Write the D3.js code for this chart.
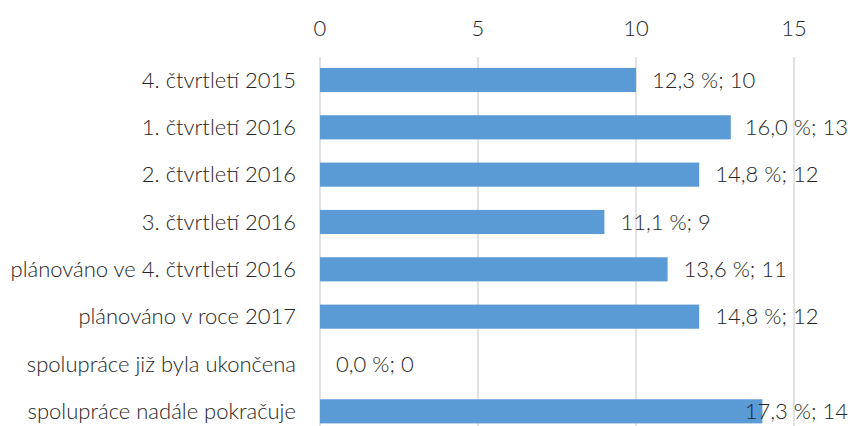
<!DOCTYPE html>
<html>
<head>
<meta charset="utf-8">
<script src="https://cdn.jsdelivr.net/npm/d3@7"></script>
<style>
  body { margin: 0; background: #fff; }
  text { font-family: Lato, "Open Sans", sans-serif; font-weight: 300; fill: #262626; }
</style>
</head>
<body>
<div id="chart"></div>
<script>
// chart data
const categories = [
    "4. čtvrtletí 2015",
    "1. čtvrtletí 2016",
    "2. čtvrtletí 2016",
    "3. čtvrtletí 2016",
    "plánováno ve 4. čtvrtletí 2016",
    "plánováno v roce 2017",
    "spolupráce již byla ukončena",
    "spolupráce nadále pokračuje"
]
const counts = [10, 13, 12, 9, 11, 12, 0, 14]
const percents = ["12,3", "16,0", "14,8", "11,1", "13,6", "14,8", "0,0", "17,3"]
const tickValues = [0, 5, 10, 15]

const W = 850, H = 426
const FS = 22
let svg = d3.select("#chart")
            .append("svg")
                .attr("width", W)
                .attr("height", H)

let x = d3.scaleLinear()
            .domain([0, 15])
            .range([320, 794])

let y = d3.scaleBand()
            .domain(categories)
            .range([56.3, 435])
            .paddingInner(0.49)
            .paddingOuter(0.245)

// gridlines
svg.append("g")
    .selectAll("line")
    .data(tickValues)
    .enter().append("line")
        .attr("x1", d => x(d))
        .attr("x2", d => x(d))
        .attr("y1", 57)
        .attr("y2", H)
        .attr("stroke", "#d9d9d9")
        .attr("stroke-width", 1.5)

// top axis labels
svg.append("g")
    .selectAll("text")
    .data(tickValues)
    .enter().append("text")
        .attr("x", d => x(d))
        .attr("y", 36)
        .attr("text-anchor", "middle")
        .attr("font-size", FS)
        .text(d => d)

// category labels
svg.append("g")
    .selectAll("text")
    .data(categories)
    .enter().append("text")
        .attr("x", 296)
        .attr("y", d => y(d) + y.bandwidth() / 2)
        .attr("dy", "0.35em")
        .attr("text-anchor", "end")
        .attr("font-size", FS)
        .text(d => d)

let rows = categories.map((c, i) => ({ cat: c, n: counts[i], pct: percents[i] }))

// bars
svg.append("g")
    .selectAll("rect")
    .data(rows)
    .enter().append("rect")
        .attr("x", x(0))
        .attr("y", d => y(d.cat))
        .attr("width", d => x(d.n) - x(0))
        .attr("height", y.bandwidth())
        .attr("fill", "#5b9bd5")

// value labels, pushed back inside the chart when they would overflow
svg.append("g")
    .selectAll("text")
    .data(rows)
    .enter().append("text")
        .attr("y", d => y(d.cat) + y.bandwidth() / 2)
        .attr("dy", "0.35em")
        .attr("font-size", FS)
        .text(d => `${d.pct} %; ${d.n}`)
        .attr("x", function(d) {
            let w = this.getComputedTextLength()
            return Math.min(x(d.n) + 16, W - 2 - w)
        })
</script>
</body>
</html>
